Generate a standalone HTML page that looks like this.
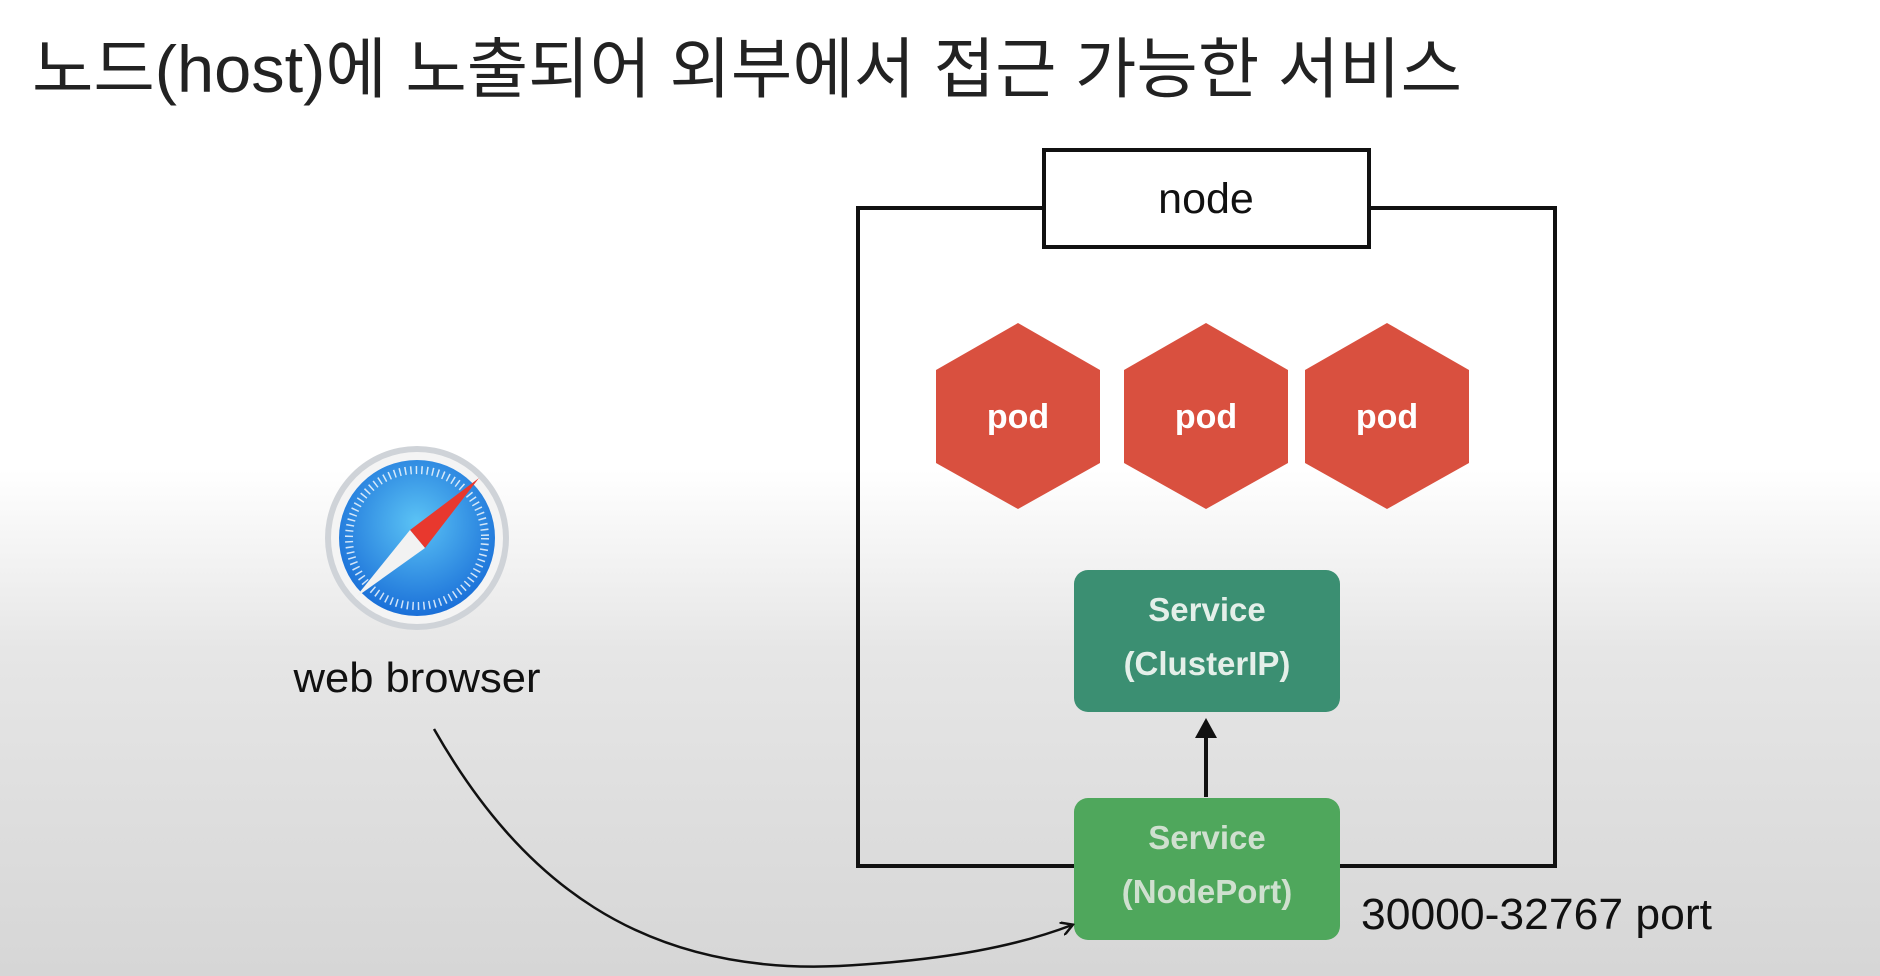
<!DOCTYPE html>
<html><head><meta charset="utf-8"><style>
html,body{margin:0;padding:0;width:1880px;height:976px;overflow:hidden;}
body{background:linear-gradient(to bottom,#ffffff 0px,#ffffff 470px,#e6e6e6 650px,#d6d6d6 976px);}
svg{position:absolute;left:0;top:0;}
</style></head><body>
<svg width="1880" height="976" viewBox="0 0 1880 976" xmlns="http://www.w3.org/2000/svg">
<defs>
<radialGradient id="dial" cx="50%" cy="40%" r="60%">
<stop offset="0" stop-color="#5bc3f5"/><stop offset="1" stop-color="#1a6fd8"/>
</radialGradient>
<marker id="ah" markerWidth="14" markerHeight="14" refX="11" refY="7" orient="auto" markerUnits="userSpaceOnUse">
<path d="M0,0 L12,7 L0,14" fill="none" stroke="#111" stroke-width="2.5"/></marker>
</defs>
<text x="32" y="92" font-family="'Liberation Sans','Noto Sans CJK KR',sans-serif" font-size="66" fill="#222" textLength="1430" lengthAdjust="spacingAndGlyphs">노드(host)에 노출되어 외부에서 접근 가능한 서비스</text>

<rect x="858" y="208" width="697" height="658" fill="none" stroke="#111" stroke-width="4"/>
<rect x="1044" y="150" width="325" height="97" fill="#fff" stroke="#111" stroke-width="4"/>
<text x="1206" y="213" text-anchor="middle" font-family="'Liberation Sans',sans-serif" font-size="43" fill="#111">node</text>

<g fill="#d9503f">
<polygon points="1018,323 1100,370 1100,463 1018,509 936,463 936,370"/>
<polygon points="1206,323 1288,370 1288,463 1206,509 1124,463 1124,370"/>
<polygon points="1387,323 1469,370 1469,463 1387,509 1305,463 1305,370"/>
</g>
<g font-family="'Liberation Sans',sans-serif" font-weight="bold" font-size="34" fill="#fff" text-anchor="middle">
<text x="1018" y="428">pod</text><text x="1206" y="428">pod</text><text x="1387" y="428">pod</text>
</g>

<rect x="1074" y="570" width="266" height="142" rx="14" fill="#3b8f72"/>
<g font-family="'Liberation Sans',sans-serif" font-weight="bold" font-size="33" fill="#e4efe9" text-anchor="middle">
<text x="1207" y="621">Service</text><text x="1207" y="675">(ClusterIP)</text></g>

<rect x="1074" y="798" width="266" height="142" rx="14" fill="#4fa75c"/>
<g font-family="'Liberation Sans',sans-serif" font-weight="bold" font-size="33" fill="#cfe0cf" text-anchor="middle">
<text x="1207" y="849">Service</text><text x="1207" y="903">(NodePort)</text></g>

<line x1="1206" y1="797" x2="1206" y2="736" stroke="#111" stroke-width="4"/>
<polygon points="1206,718 1195,738 1217,738" fill="#111"/>

<text x="1361" y="929" font-family="'Liberation Sans',sans-serif" font-size="44" fill="#111" textLength="351" lengthAdjust="spacingAndGlyphs">30000-32767 port</text>

<path d="M434,729 C520,880 640,975 839,966 C950,960 1020,945 1072,925" fill="none" stroke="#111" stroke-width="2.5" marker-end="url(#ah)"/>

<circle cx="417" cy="538" r="92" fill="#cfd3d8"/>
<circle cx="417" cy="538" r="86" fill="#f4f4f4"/>
<circle cx="417" cy="538" r="78" fill="url(#dial)"/>
<circle cx="417" cy="538" r="68" fill="none" stroke="#ffffff" stroke-width="8" stroke-dasharray="1.5 4" opacity="0.8"/>
<polygon points="479,478 425,548 410,530" fill="#e8382e"/>
<polygon points="355,598 410,530 425,548" fill="#f2f2f2"/>
<text x="417" y="692" text-anchor="middle" font-family="'Liberation Sans',sans-serif" font-size="42" fill="#111" textLength="247" lengthAdjust="spacingAndGlyphs">web browser</text>
</svg>
</body></html>
